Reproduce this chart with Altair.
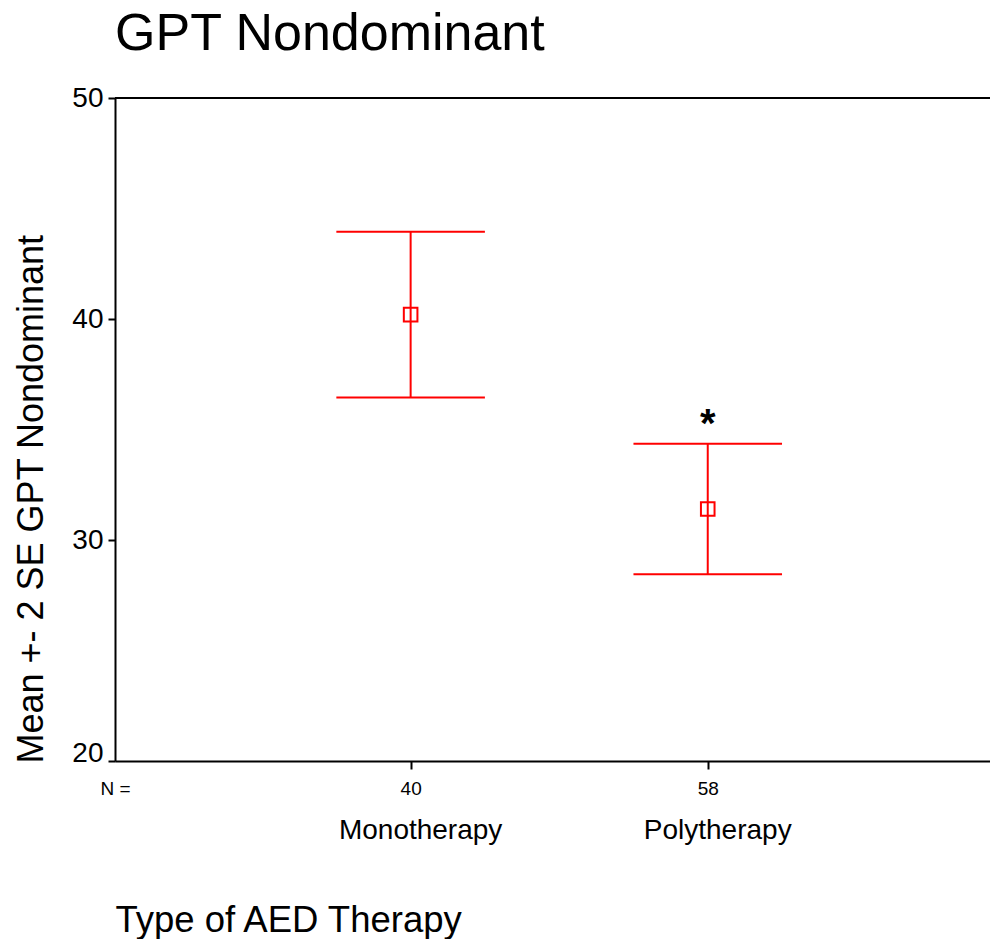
import altair as alt
import pandas as pd

# ---- data ----
groups = ["Monotherapy", "Polytherapy"]
positions = [1, 2]
n_values = [40, 58]
means = [40.2, 31.4]
lower = [36.45, 28.45]
upper = [43.95, 34.35]
sig = ["", "*"]
y_ticks = [20, 30, 40, 50]

df = pd.DataFrame(dict(group=groups, pos=positions, n=n_values,
                       mean=means, lo=lower, hi=upper, sig=sig))

W, H = 875, 663
RED = "#ff0000"
FONT = "Liberation Sans"
CAP = 0.25

x_start = 0.005
xscale = alt.Scale(domain=[x_start, 2.95], nice=False, zero=False)
yscale = alt.Scale(domain=[y_ticks[0], y_ticks[-1]], nice=False, zero=False)

label_expr = " : ".join(
    [f"datum.value == {p} ? '{n}'" for p, n in zip(positions, n_values)]
) + " : 'N ='"

x_axis = alt.Axis(
    values=[x_start] + positions,
    labelExpr=label_expr,
    labelFlush=False,
    labelOverlap=False,
    labelFontSize=19,
    labelPadding=10,
    labelFont=FONT,
    labelColor="black",
    tickSize=8,
    tickWidth=2,
    tickColor={"condition": {"test": "datum.value < 0.5", "value": "transparent"},
               "value": "black"},
    domainWidth=2,
    domainColor="black",
    grid=False,
    title="Type of AED Therapy",
    titleFont=FONT,
    titleFontSize=36.5,
    titleFontWeight="normal",
    titleColor="black",
    titleAnchor="start",
    titleAlign="left",
    titleBaseline="alphabetic",
    titleX=0,
    titleY=170,
)

y_axis = alt.Axis(
    values=y_ticks,
    labelFontSize=28,
    labelFont=FONT,
    labelColor="black",
    labelPadding=5,
    labelBaseline={"condition": {"test": f"datum.value == {y_ticks[0]}", "value": "alphabetic"},
                   "value": "middle"},
    tickSize=7,
    tickWidth=2,
    tickColor="black",
    domainWidth=2,
    domainColor="black",
    grid=False,
    title="Mean +- 2 SE GPT Nondominant",
    titleFont=FONT,
    titleFontSize=36,
    titleFontWeight="normal",
    titleColor="black",
    titleAngle=270,
    titleAlign="left",
    titleBaseline="alphabetic",
    titleX=-73,
    titleY=H + 2,
)

base = alt.Chart(df)

bars = base.mark_rule(color=RED, strokeWidth=2).encode(
    x=alt.X("pos:Q", scale=xscale, axis=x_axis),
    y=alt.Y("lo:Q", scale=yscale, axis=y_axis),
    y2="hi:Q",
)

cap_hi = base.mark_rule(color=RED, strokeWidth=2).transform_calculate(
    x1=f"datum.pos - {CAP}", x2=f"datum.pos + {CAP}"
).encode(
    x=alt.X("x1:Q", scale=xscale),
    x2="x2:Q",
    y=alt.Y("hi:Q", scale=yscale),
)

cap_lo = base.mark_rule(color=RED, strokeWidth=2).transform_calculate(
    x1=f"datum.pos - {CAP}", x2=f"datum.pos + {CAP}"
).encode(
    x=alt.X("x1:Q", scale=xscale),
    x2="x2:Q",
    y=alt.Y("lo:Q", scale=yscale),
)

pts = base.mark_point(shape="square", filled=False, color=RED,
                      size=185, strokeWidth=2, opacity=1).encode(
    x=alt.X("pos:Q", scale=xscale),
    y=alt.Y("mean:Q", scale=yscale),
)

stars = base.mark_text(font=FONT, fontSize=40, fontWeight="bold",
                       baseline="alphabetic", dy=-7, color="black").encode(
    x=alt.X("pos:Q", scale=xscale),
    y=alt.Y("hi:Q", scale=yscale),
    text="sig:N",
)

names = base.mark_text(font=FONT, fontSize=28, baseline="alphabetic",
                       dx=10, color="black").encode(
    x=alt.X("pos:Q", scale=xscale),
    y=alt.value(741),
    text="group:N",
)

top_line = alt.Chart(df).mark_rule(color="black", strokeWidth=2).encode(
    y=alt.datum(y_ticks[-1], scale=yscale),
)

chart = alt.layer(bars, cap_hi, cap_lo, pts, stars, names, top_line).properties(
    width=W,
    height=H,
    title=alt.TitleParams("GPT Nondominant", anchor="start", font=FONT,
                          fontSize=52, fontWeight="normal", color="black",
                          frame="group", offset=23),
    autosize=alt.AutoSizeParams(type="none"),
    padding={"left": 115, "top": 98, "right": 0, "bottom": 178},
).configure_view(stroke=None).configure(background="white")

chart.save("out.html", embed_options={"renderer": "svg", "actions": False})
